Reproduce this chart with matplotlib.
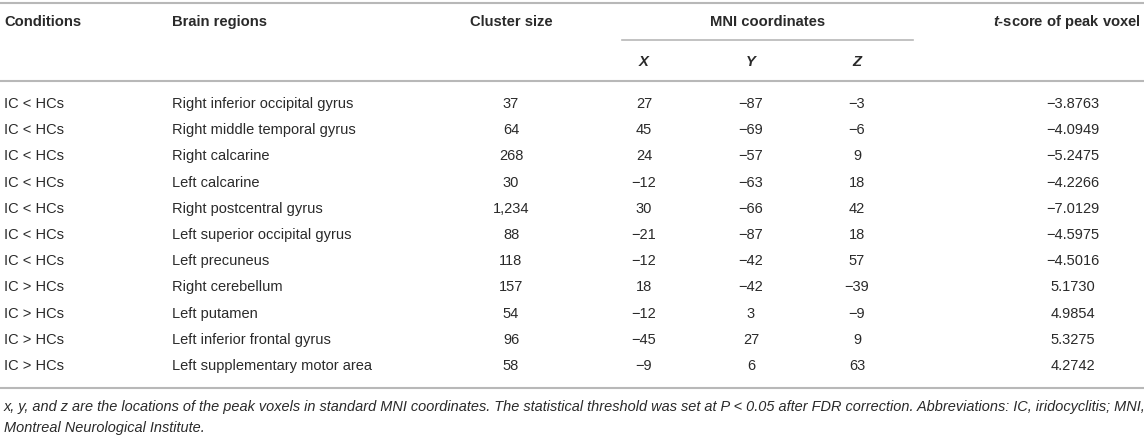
import matplotlib
matplotlib.use('Agg')
import matplotlib.pyplot as plt

plt.rcParams['font.family'] = ['Liberation Sans', 'DejaVu Sans']
plt.rcParams['mathtext.fontset'] = 'custom'
plt.rcParams['mathtext.rm'] = 'Liberation Sans'
plt.rcParams['mathtext.bfit'] = 'Liberation Sans:bold:italic'

conditions = ['IC < HCs'] * 7 + ['IC > HCs'] * 4
regions = ['Right inferior occipital gyrus', 'Right middle temporal gyrus',
           'Right calcarine', 'Left calcarine', 'Right postcentral gyrus',
           'Left superior occipital gyrus', 'Left precuneus', 'Right cerebellum',
           'Left putamen', 'Left inferior frontal gyrus',
           'Left supplementary motor area']
cluster_size = [37, 64, 268, 30, 1234, 88, 118, 157, 54, 96, 58]
mni_x = [27, 45, 24, -12, 30, -21, -12, 18, -12, -45, -9]
mni_y = [-87, -69, -57, -63, -66, -87, -42, -42, 3, 27, 6]
mni_z = [-3, -6, 9, 18, 42, 18, 57, -39, -9, 9, 63]
t_score = [-3.8763, -4.0949, -5.2475, -4.2266, -7.0129, -4.5975, -4.5016,
           5.1730, 4.9854, 5.3275, 4.2742]

footnote = ('x, y, and z are the locations of the peak voxels in standard MNI coordinates. '
            'The statistical threshold was set at P < 0.05 after FDR correction. '
            'Abbreviations: IC, iridocyclitis; MNI,\nMontreal Neurological Institute.')

def num(v, fmt='{:d}'):
    return fmt.format(v).replace('-', '\u2212')

fig = plt.figure(figsize=(11.44, 4.36), dpi=100)
ax = fig.add_axes([0, 0, 1, 1])
ax.set_xlim(0, 1144)
ax.set_ylim(436, 0)
ax.axis('off')

tc = '#2a2a2a'
lc = '#b8b8b8'
fs = 10.5
hfs = 10.6

# column centres
col_cl, col_x, col_y, col_z, col_t = 511, 644, 751, 857, 1073

# rules
ax.plot([0, 1144], [3, 3], color=lc, lw=1.5)
ax.plot([622, 913], [40, 40], color=lc, lw=1.2)
ax.plot([0, 1144], [81, 81], color=lc, lw=1.5)
ax.plot([0, 1144], [388, 388], color=lc, lw=1.5)

# header
hy = 22
ax.text(4, hy, 'Conditions', fontsize=hfs, fontweight='bold', color=tc, va='center')
ax.text(172, hy, 'Brain regions', fontsize=hfs, fontweight='bold', color=tc, va='center')
ax.text(col_cl, hy, 'Cluster size', fontsize=hfs, fontweight='bold', color=tc, va='center', ha='center')
ax.text(768, hy, 'MNI coordinates', fontsize=hfs, fontweight='bold', color=tc, va='center', ha='center')
ax.text(1141, hy, r'$\mathbfit{t}$-score of peak voxel', fontsize=hfs, fontweight='bold',
        color=tc, va='center', ha='right')
for cx, lab in zip([col_x, col_y, col_z], ['X', 'Y', 'Z']):
    ax.text(cx, 62, lab, fontsize=hfs, fontweight='bold', style='italic', color=tc,
            va='center', ha='center')

# rows
y0, dy = 104, 26.2
for i in range(len(regions)):
    y = y0 + i * dy
    ax.text(4, y, conditions[i], fontsize=fs, color=tc, va='center')
    ax.text(172, y, regions[i], fontsize=fs, color=tc, va='center')
    ax.text(col_cl, y, '{:,}'.format(cluster_size[i]), fontsize=fs, color=tc, va='center', ha='center')
    ax.text(col_x, y, num(mni_x[i]), fontsize=fs, color=tc, va='center', ha='center')
    ax.text(col_y, y, num(mni_y[i]), fontsize=fs, color=tc, va='center', ha='center')
    ax.text(col_z, y, num(mni_z[i]), fontsize=fs, color=tc, va='center', ha='center')
    ax.text(col_t, y, num(t_score[i], '{:.4f}'), fontsize=fs, color=tc, va='center', ha='center')

ax.text(4, 400, footnote, fontsize=10.45, style='italic', color=tc, va='top', linespacing=1.6)

fig.savefig('out.png', dpi=100)
